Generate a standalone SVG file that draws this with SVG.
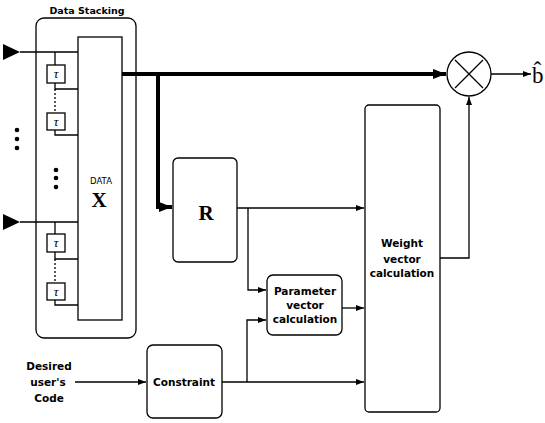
<svg xmlns="http://www.w3.org/2000/svg" width="545" height="423" viewBox="0 0 545 423">
<defs>
<marker id="a" markerUnits="userSpaceOnUse" markerWidth="9" markerHeight="7" refX="8" refY="3" orient="auto"><path d="M0,0 L8,3 L0,6 z" fill="#000"/></marker>
<marker id="at" markerUnits="userSpaceOnUse" markerWidth="14" markerHeight="10" refX="13" refY="5" orient="auto"><path d="M0,0 L13,5 L0,10 z" fill="#000"/></marker>
</defs>
<style>
.b{fill:none;stroke:#000;stroke-width:1.3}
.l{fill:none;stroke:#000;stroke-width:1.3}
.t{fill:none;stroke:#000;stroke-width:4}
.d{fill:none;stroke:#000;stroke-width:1.3;stroke-dasharray:2 2}
.s{font-family:"DejaVu Sans",sans-serif;font-weight:bold;font-size:10.5px;text-anchor:middle;fill:#000}
.r{font-family:"Liberation Serif",serif;font-weight:bold;text-anchor:middle;fill:#000}
.tau{font-family:"Liberation Serif",serif;font-style:italic;font-size:13px;text-anchor:middle;fill:#000}
</style>
<g id="datastacking">
<rect class="b" x="36" y="18" width="100" height="320" rx="8"/>
<text class="s" x="87" y="14" style="font-size:9.5px">Data Stacking</text>
<rect class="b" x="78" y="37" width="44" height="283"/>
<text x="101" y="184" style="font-family:'DejaVu Sans',sans-serif;font-size:8.5px;text-anchor:middle">DATA</text>
<text class="r" x="99" y="207" style="font-size:21px">X</text>
<polygon points="3,44 20,52 3,60" fill="#000"/>
<polygon points="3,214 20,222 3,230" fill="#000"/>
<path class="l" d="M20,52 H78 M55,52 V65 M55,83 V89 H78 M55,130 V135 H78"/>
<path class="d" d="M55,89 V113"/>
<rect class="b" x="47" y="65" width="18" height="18"/>
<text class="tau" x="56" y="78">τ</text>
<rect class="b" x="47" y="113" width="18" height="17"/>
<text class="tau" x="56" y="126">τ</text>
<path class="l" d="M20,222 H78 M55,222 V234 M55,252 V259 H78 M55,300 V305 H78"/>
<path class="d" d="M55,259 V283"/>
<rect class="b" x="47" y="234" width="18" height="18"/>
<text class="tau" x="56" y="247">τ</text>
<rect class="b" x="47" y="283" width="18" height="17"/>
<text class="tau" x="56" y="296">τ</text>
<circle cx="17" cy="130" r="2.3"/><circle cx="17" cy="139" r="2.3"/><circle cx="17" cy="148" r="2.3"/>
<circle cx="56" cy="170" r="2.3"/><circle cx="56" cy="178" r="2.3"/><circle cx="56" cy="187" r="2.3"/>
</g>
<g id="R">
<rect class="b" x="173" y="158" width="64" height="104" rx="5"/>
<text class="r" x="206" y="220" style="font-size:21px">R</text>
</g>
<g id="param">
<rect class="b" x="267" y="275" width="75" height="60" rx="6"/>
<text class="s" x="305" y="295">Parameter</text>
<text class="s" x="305" y="309">vector</text>
<text class="s" x="305" y="323">calculation</text>
</g>
<g id="weight">
<rect class="b" x="365" y="105" width="75" height="307" rx="4"/>
<text class="s" x="402" y="247">Weight</text>
<text class="s" x="402" y="263">vector</text>
<text class="s" x="402" y="277">calculation</text>
</g>
<g id="constraint">
<rect class="b" x="147" y="345" width="75" height="73" rx="6"/>
<text class="s" x="184" y="386">Constraint</text>
</g>
<g id="desired">
<text class="s" x="49" y="370">Desired</text>
<text class="s" x="48" y="386">user's</text>
<text class="s" x="49" y="402">Code</text>
</g>
<g id="multiplier">
<circle class="b" cx="469" cy="74" r="22"/>
<path class="l" d="M455,60 L483,88 M483,60 L455,88"/>
</g>
<g id="output">
<text x="532" y="83" style="font-family:'Liberation Serif',serif;font-size:23px">b̂</text>
</g>
<g id="connectors">
<path class="t" d="M122,74 H446" marker-end="url(#at)"/>
<path class="t" d="M158,74 V207 H172" marker-end="url(#at)"/>
<path class="l" d="M491,74 H531" marker-end="url(#a)"/>
<path class="l" d="M237,208 H364" marker-end="url(#a)"/>
<path class="l" d="M248,208 V290 H266" marker-end="url(#a)"/>
<path class="l" d="M342,308 H364" marker-end="url(#a)"/>
<path class="l" d="M222,382 H364" marker-end="url(#a)"/>
<path class="l" d="M247,382 V320 H266" marker-end="url(#a)"/>
<path class="l" d="M75,382 H146" marker-end="url(#a)"/>
<path class="l" d="M440,258 H469 V97" marker-end="url(#a)"/>
</g>
</svg>
